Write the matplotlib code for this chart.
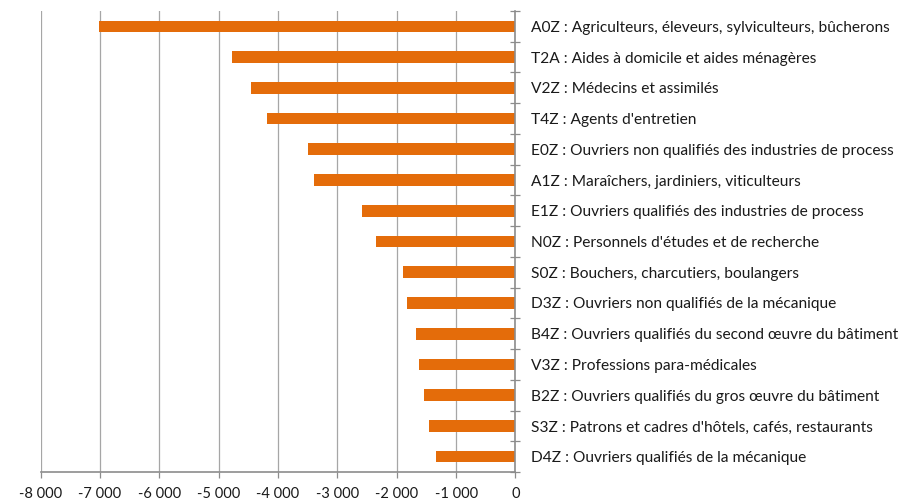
import numpy as np
import matplotlib
matplotlib.use("Agg")
import matplotlib.pyplot as plt
from matplotlib.ticker import FuncFormatter

# --- data ---
categories = [
    "A0Z : Agriculteurs, éleveurs, sylviculteurs, bûcherons",
    "T2A : Aides à domicile et aides ménagères",
    "V2Z : Médecins et assimilés",
    "T4Z : Agents d'entretien",
    "E0Z : Ouvriers non qualifiés des industries de process",
    "A1Z : Maraîchers, jardiniers, viticulteurs",
    "E1Z : Ouvriers qualifiés des industries de process",
    "N0Z : Personnels d'études et de recherche",
    "S0Z : Bouchers, charcutiers, boulangers",
    "D3Z : Ouvriers non qualifiés de la mécanique",
    "B4Z : Ouvriers qualifiés du second œuvre du bâtiment",
    "V3Z : Professions para-médicales",
    "B2Z : Ouvriers qualifiés du gros œuvre du bâtiment",
    "S3Z : Patrons et cadres d'hôtels, cafés, restaurants",
    "D4Z : Ouvriers qualifiés de la mécanique",
]
values = [-7010, -4780, -4450, -4190, -3500, -3390, -2580, -2350,
          -1890, -1830, -1680, -1620, -1540, -1455, -1330]

plt.rcParams['font.family'] = ['Lato', 'DejaVu Sans']
BAR = "#E46C0A"
AXC = "#8C8C8C"

fig = plt.figure(figsize=(9.06, 5.03), dpi=100)
ax = fig.add_axes([0.0449, 0.0616, 0.524, 0.9165])

y = np.arange(len(categories))
ax.barh(y, values, height=0.38, color=BAR, zorder=3)

ax.set_xlim(-8000, 0)
ax.set_ylim(len(categories) - 0.5, -0.5)
ax.set_xticks(np.arange(-8000, 1, 1000))
ax.xaxis.set_major_formatter(FuncFormatter(lambda v, p: f"{int(v):,}".replace(",", " ")))
ax.grid(axis="x", color="#A6A6A6", linewidth=0.9, zorder=0)

ax.yaxis.tick_right()
ax.set_yticks(y)
ax.set_yticklabels(categories)
ax.set_yticks(np.arange(-0.5, len(categories)), minor=True)
ax.tick_params(axis="y", which="major", length=0, pad=11, labelsize=11.2, labelcolor="#1a1a1a")
ax.tick_params(axis="y", which="minor", length=7, direction="inout", color=AXC, width=0.9)
ax.tick_params(axis="x", length=4, color=AXC, width=0.9, pad=7, labelsize=10.5, labelcolor="#1a1a1a")

for s in ["top", "left"]:
    ax.spines[s].set_visible(False)
for s in ["bottom", "right"]:
    ax.spines[s].set_color(AXC)
    ax.spines[s].set_linewidth(1.2)
    ax.spines[s].set_zorder(4)

fig.savefig("out.png", dpi=100)
